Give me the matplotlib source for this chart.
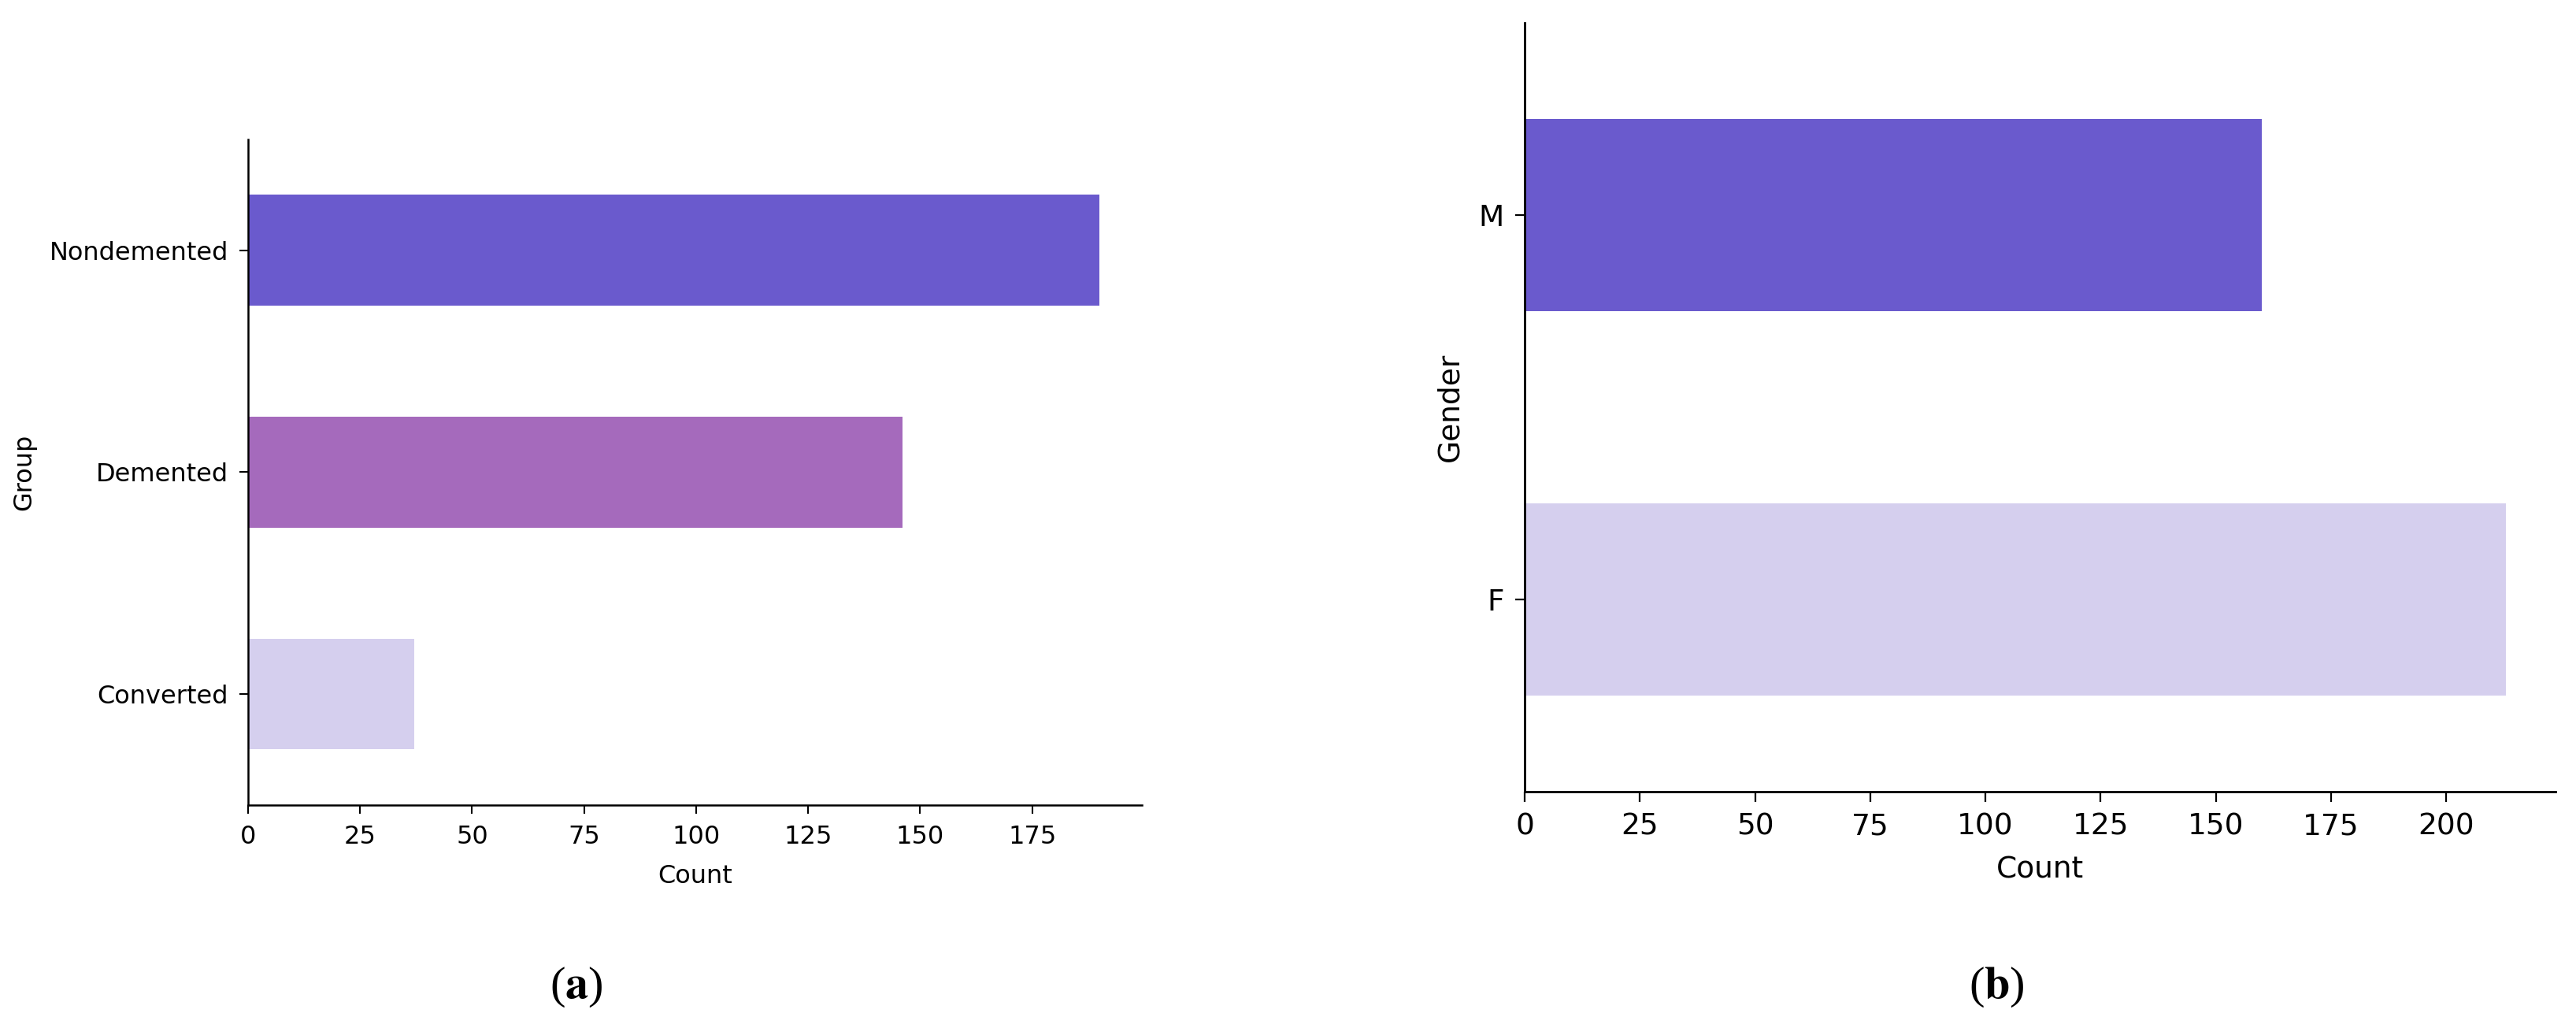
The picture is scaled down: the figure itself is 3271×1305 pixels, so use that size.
import matplotlib
matplotlib.use("Agg")
import matplotlib.pyplot as plt

# data
groups = ["Converted", "Demented", "Nondemented"]
group_counts = [37, 146, 190]
group_colors = ["#D5CFEE", "#A56ABC", "#6A5ACD"]

genders = ["F", "M"]
gender_counts = [213, 160]
gender_colors = ["#D5CFEE", "#6A5ACD"]

plt.rcParams['font.family'] = ['DejaVu Sans']
plt.rcParams['mathtext.fontset'] = 'stix'

fig = plt.figure(figsize=(32.71, 13.05), dpi=100)

# panel a
ax1 = fig.add_axes([0.0963, 0.217, 0.347, 0.6475])
ax1.barh(range(len(groups)), group_counts, height=0.5, color=group_colors)
ax1.set_yticks(range(len(groups)))
ax1.set_yticklabels(groups)
ax1.set_ylim(-0.5, len(groups) - 0.5)
ax1.set_xlim(0, max(group_counts) * 1.05)
ax1.set_xticks([0, 25, 50, 75, 100, 125, 150, 175])
ax1.set_xlabel("Count", fontsize=23, labelpad=14)
ax1.set_ylabel("Group", fontsize=23, labelpad=12)
ax1.tick_params(labelsize=23, length=8, width=1.5, pad=10)
for s in ["top", "right"]:
    ax1.spines[s].set_visible(False)
for s in ["left", "bottom"]:
    ax1.spines[s].set_linewidth(1.8)

# panel b
ax2 = fig.add_axes([0.5919, 0.230, 0.400, 0.748])
ax2.barh(range(len(genders)), gender_counts, height=0.5, color=gender_colors)
ax2.set_yticks(range(len(genders)))
ax2.set_yticklabels(genders)
ax2.set_ylim(-0.5, len(genders) - 0.5)
ax2.set_xlim(0, max(gender_counts) * 1.05)
ax2.set_xticks([0, 25, 50, 75, 100, 125, 150, 175, 200])
ax2.set_xlabel("Count", fontsize=27, labelpad=14)
ax2.set_ylabel("Gender", fontsize=27, labelpad=13)
ax2.tick_params(labelsize=27, length=9, width=1.6, pad=10)
for s in ["top", "right"]:
    ax2.spines[s].set_visible(False)
for s in ["left", "bottom"]:
    ax2.spines[s].set_linewidth(2)

# captions
fig.text(0.2238, 0.04, r"($\mathbf{a}$)", fontsize=42, family="Liberation Serif",
         ha="center", va="center")
fig.text(0.775, 0.04, r"($\mathbf{b}$)", fontsize=42, family="Liberation Serif",
         ha="center", va="center")

fig.savefig("out.png", dpi=100)
